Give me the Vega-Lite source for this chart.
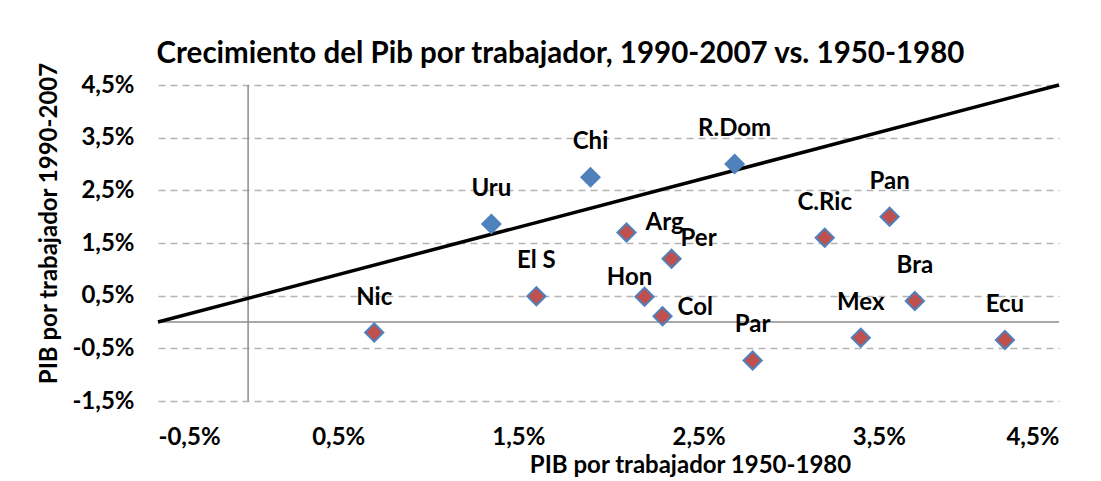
{
  "$schema": "https://vega.github.io/schema/vega-lite/v6.json",
  "width": 901,
  "height": 316,
  "autosize": {"type": "none"},
  "padding": {"left": 158, "top": 85, "right": 42, "bottom": 80},
  "background": "white",
  "config": {
    "view": {"stroke": null},
    "font": "Lato",
    "axis": {"labelFont": "Lato", "titleFont": "Lato", "labelFontWeight": "bold", "titleFontWeight": "bold", "labelColor": "black", "titleColor": "black", "labelFontSize": 24, "titleFontSize": 24, "domain": false, "ticks": false}
  },
  "title": {
    "text": "Crecimiento del Pib por trabajador, 1990-2007 vs. 1950-1980",
    "font": "Lato",
    "fontSize": 29.5,
    "fontWeight": "bold",
    "color": "black",
    "anchor": "middle",
    "frame": "group",
    "dx": -48,
    "offset": -8
  },
  "datasets": {
    "paises": [
      {"pais": "Uru", "x": 1.35, "y": 1.86, "grupo": "arriba"},
      {"pais": "Chi", "x": 1.90, "y": 2.75, "grupo": "arriba"},
      {"pais": "R.Dom", "x": 2.70, "y": 3.00, "grupo": "arriba"},
      {"pais": "Nic", "x": 0.70, "y": -0.20, "grupo": "abajo"},
      {"pais": "El S", "x": 1.60, "y": 0.49, "grupo": "abajo"},
      {"pais": "Arg", "x": 2.10, "y": 1.70, "grupo": "abajo"},
      {"pais": "Per", "x": 2.35, "y": 1.20, "grupo": "abajo"},
      {"pais": "Hon", "x": 2.20, "y": 0.48, "grupo": "abajo"},
      {"pais": "Col", "x": 2.30, "y": 0.11, "grupo": "abajo"},
      {"pais": "Par", "x": 2.80, "y": -0.73, "grupo": "abajo"},
      {"pais": "C.Ric", "x": 3.20, "y": 1.60, "grupo": "abajo"},
      {"pais": "Pan", "x": 3.56, "y": 2.00, "grupo": "abajo"},
      {"pais": "Mex", "x": 3.40, "y": -0.30, "grupo": "abajo"},
      {"pais": "Bra", "x": 3.70, "y": 0.40, "grupo": "abajo"},
      {"pais": "Ecu", "x": 4.20, "y": -0.34, "grupo": "abajo"}
    ],
    "recta": [
      {"x": -0.5, "y": 0.0},
      {"x": 4.5, "y": 4.5}
    ],
    "cero": [{"v": 0}]
  },
  "layer": [
    {
      "data": {"name": "cero"},
      "mark": {"type": "rule", "color": "#8C8C8C", "strokeWidth": 1.5},
      "encoding": {
        "y": {"field": "v", "type": "quantitative", "scale": {"domain": [-1.5, 4.5], "nice": false, "zero": false},
          "axis": {"values": [-1.5, -0.5, 0.5, 1.5, 2.5, 3.5, 4.5], "grid": true, "gridDash": [7, 5], "gridColor": "#B4B4B4", "gridWidth": 1.5,
            "labelExpr": "replace(replace(format(datum.value, '.1f'), '.', ','), '\u2212', '-') + '%'",
            "labelPadding": 24, "title": "PIB por trabajador 1990-2007", "titlePadding": 10, "titleY": 138, "titleAlign": "center", "titleAnchor": "middle"}}
      }
    },
    {
      "data": {"name": "cero"},
      "mark": {"type": "rule", "color": "#8C8C8C", "strokeWidth": 1.5},
      "encoding": {
        "x": {"field": "v", "type": "quantitative", "scale": {"domain": [-0.5, 4.5], "nice": false, "zero": false},
          "axis": {"values": [-0.5, 0.5, 1.5, 2.5, 3.5, 4.5], "grid": false,
            "labelExpr": "replace(replace(format(datum.value, '.1f'), '.', ','), '\u2212', '-') + '%'",
            "labelPadding": 24, "title": "PIB por trabajador 1950-1980", "titlePadding": 4, "titleX": 532, "titleAnchor": "middle"}}
      }
    },
    {
      "data": {"name": "recta"},
      "mark": {"type": "line", "color": "black", "strokeWidth": 3.5},
      "encoding": {
        "x": {"field": "x", "type": "quantitative"},
        "y": {"field": "y", "type": "quantitative"}
      }
    },
    {
      "data": {"name": "paises"},
      "mark": {"type": "point", "shape": "diamond", "filled": true, "size": 330, "opacity": 1, "strokeWidth": 2, "stroke": "#4F81BD"},
      "encoding": {
        "x": {"field": "x", "type": "quantitative"},
        "y": {"field": "y", "type": "quantitative"},
        "color": {"field": "grupo", "type": "nominal", "scale": {"domain": ["arriba", "abajo"], "range": ["#4F81BD", "#C0504D"]}, "legend": null}
      }
    },
    {
      "data": {"name": "paises"},
      "transform": [{"filter": {"not": {"field": "pais", "oneOf": ["Hon", "Arg", "Per", "Col"]}}}],
      "mark": {"type": "text", "font": "Lato", "fontSize": 24, "fontWeight": "bold", "color": "black", "align": "center", "baseline": "middle", "dy": -35},
      "encoding": {
        "x": {"field": "x", "type": "quantitative"},
        "y": {"field": "y", "type": "quantitative"},
        "text": {"field": "pais"}
      }
    },
    {
      "data": {"name": "paises"},
      "transform": [{"filter": {"field": "pais", "equal": "Hon"}}],
      "mark": {"type": "text", "font": "Lato", "fontSize": 24, "fontWeight": "bold", "color": "black", "align": "center", "baseline": "middle", "dx": -15, "dy": -19},
      "encoding": {
        "x": {"field": "x", "type": "quantitative"},
        "y": {"field": "y", "type": "quantitative"},
        "text": {"field": "pais"}
      }
    },
    {
      "data": {"name": "paises"},
      "transform": [{"filter": {"field": "pais", "equal": "Arg"}}],
      "mark": {"type": "text", "font": "Lato", "fontSize": 24, "fontWeight": "bold", "color": "black", "align": "left", "baseline": "middle", "dx": 19, "dy": -9},
      "encoding": {
        "x": {"field": "x", "type": "quantitative"},
        "y": {"field": "y", "type": "quantitative"},
        "text": {"field": "pais"}
      }
    },
    {
      "data": {"name": "paises"},
      "transform": [{"filter": {"field": "pais", "equal": "Per"}}],
      "mark": {"type": "text", "font": "Lato", "fontSize": 24, "fontWeight": "bold", "color": "black", "align": "left", "baseline": "middle", "dx": 9, "dy": -20},
      "encoding": {
        "x": {"field": "x", "type": "quantitative"},
        "y": {"field": "y", "type": "quantitative"},
        "text": {"field": "pais"}
      }
    },
    {
      "data": {"name": "paises"},
      "transform": [{"filter": {"field": "pais", "equal": "Col"}}],
      "mark": {"type": "text", "font": "Lato", "fontSize": 24, "fontWeight": "bold", "color": "black", "align": "left", "baseline": "middle", "dx": 15, "dy": -8},
      "encoding": {
        "x": {"field": "x", "type": "quantitative"},
        "y": {"field": "y", "type": "quantitative"},
        "text": {"field": "pais"}
      }
    }
  ]
}
